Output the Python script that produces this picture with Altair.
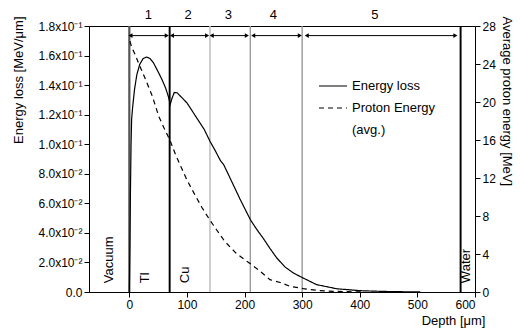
import altair as alt
import pandas as pd

# ---- data ----
eloss_depth = [0, 1, 2, 3, 4, 6, 9, 13, 18, 24, 30, 36, 42, 50, 57, 63, 68, 71,
               74, 78, 83, 90, 100, 110, 120, 130, 140, 150, 158, 164, 175, 192,
               210, 220, 233, 245, 256, 270, 285, 302, 325, 360, 400, 440, 470, 505]
eloss_value = [0.0, 0.03, 0.07, 0.10, 0.117, 0.126, 0.137, 0.147, 0.154, 0.158, 0.159,
               0.158, 0.155, 0.149, 0.1435, 0.138, 0.132, 0.127, 0.131, 0.135, 0.1348,
               0.132, 0.128, 0.122, 0.116, 0.110, 0.102, 0.095, 0.089, 0.086, 0.077,
               0.063, 0.049, 0.043, 0.036, 0.029, 0.023, 0.017, 0.0128, 0.0094, 0.005,
               0.0022, 0.0009, 0.0004, 0.0002, 0.0001]

energy_depth = [1, 4, 10, 18, 28, 40, 51, 60, 71, 80, 91, 100, 114, 126, 140, 152,
                166, 185, 207, 225, 244, 262, 279, 302, 330, 354, 380, 405]
energy_value = [26.4, 25.8, 25.0, 23.8, 22.4, 20.6, 18.5, 17.3, 15.9, 14.5, 13.0,
                11.8, 10.2, 8.9, 7.55, 6.5, 5.3, 4.1, 3.1, 2.3, 1.3, 1.0, 0.6, 0.35,
                0.15, 0.07, 0.03, 0.0]

boundary_depth = [0, 70, 140, 210, 300, 575]
boundary_kind = ["edge", "foil", "light", "mid", "mid", "foil"]

seg_start = [2, 74, 143, 215, 308]
seg_end = [65, 135, 204, 296, 566]
seg_label = ["1", "2", "3", "4", "5"]
seg_label_x = [33, 102, 172, 250, 426]
arrow_level = 0.1735

material_name = ["Vacuum", "Tl", "Cu", "Water"]
material_x = [-35, 28, 97, 585]

series_names = ["Energy loss", "Proton Energy", "(avg.)"]

left_ticks = [0, 0.02, 0.04, 0.06, 0.08, 0.10, 0.12, 0.14, 0.16, 0.18]
right_ticks = [0, 4, 8, 12, 16, 20, 24, 28]
x_ticks = [0, 100, 200, 300, 400, 500, 600]

FONT = "Liberation Sans"

eloss_df = pd.DataFrame({"depth": eloss_depth, "value": eloss_value,
                         "series": "Energy loss"})
energy_df = pd.DataFrame({"depth": energy_depth, "value": energy_value,
                          "series": "Proton Energy"})
bound_df = pd.DataFrame({"depth": boundary_depth, "kind": boundary_kind})
seg_df = pd.DataFrame({"start": seg_start, "end": seg_end, "label": seg_label,
                       "lx": seg_label_x, "level": arrow_level, "top": 0.18})
mat_df = pd.DataFrame({"name": material_name, "x": material_x, "y": 0.006})

xscale = alt.Scale(domain=[-70, 600], nice=False, zero=False)
yleft = alt.Scale(domain=[0, 0.18], nice=False)
yright = alt.Scale(domain=[0, 28], nice=False)
dash_scale = alt.Scale(domain=series_names, range=[[1, 0], [5, 4], [0, 100]])

left_axis = alt.Axis(values=left_ticks, orient="left", labelOverlap=False,
                     title="Energy loss [MeV/μm]",
                     labelExpr="datum.value == 0 ? '0.0' : (datum.value < 0.099 ? format(datum.value*100, '.1f') + 'x10⁻²' : format(datum.value*10, '.1f') + 'x10⁻¹')",
                     titleX=-71, titleY=-10, titleAngle=270, titleAlign="right",
                     titleBaseline="middle", labelPadding=2)

x_enc = alt.X("depth:Q", scale=xscale,
              axis=alt.Axis(values=x_ticks, title="Depth [μm]", titleX=396,
                            titleY=28, titleAlign="right", titleBaseline="middle",
                            labelPadding=2, labelOverlap=False))

rules = alt.Chart(bound_df).mark_rule().encode(
    x=alt.X("depth:Q", scale=xscale),
    color=alt.Color("kind:N", legend=None,
                    scale=alt.Scale(domain=["edge", "foil", "light", "mid"],
                                    range=["#555555", "#000000", "#c4c4c4", "#9a9a9a"])),
    strokeWidth=alt.StrokeWidth("kind:N", legend=None,
                                scale=alt.Scale(domain=["edge", "foil", "light", "mid"],
                                                range=[2.2, 1.4, 1.4, 1.0])),
)

eloss_line = alt.Chart(eloss_df).mark_line(color="black", strokeWidth=1.2).encode(
    x=x_enc,
    y=alt.Y("value:Q", scale=yleft, axis=left_axis),
    strokeDash=alt.StrokeDash("series:N", scale=dash_scale,
                              legend=alt.Legend(title=None)),
)

arrows = alt.Chart(seg_df).mark_rule(color="black", strokeWidth=1).encode(
    x=alt.X("start:Q", scale=xscale), x2="end:Q",
    y=alt.Y("level:Q", scale=yleft, axis=left_axis),
)
heads_l = alt.Chart(seg_df).mark_point(shape="triangle-left", filled=True,
                                       color="black", size=22, opacity=1).encode(
    x=alt.X("start:Q", scale=xscale), y=alt.Y("level:Q", scale=yleft, axis=left_axis))
heads_r = alt.Chart(seg_df).mark_point(shape="triangle-right", filled=True,
                                       color="black", size=22, opacity=1).encode(
    x=alt.X("end:Q", scale=xscale), y=alt.Y("level:Q", scale=yleft, axis=left_axis))
seg_text = alt.Chart(seg_df).mark_text(font=FONT, fontSize=13, dy=-11,
                                       color="black").encode(
    x=alt.X("lx:Q", scale=xscale), y=alt.Y("top:Q", scale=yleft, axis=left_axis),
    text="label:N")
mat_text = alt.Chart(mat_df).mark_text(font=FONT, fontSize=13, angle=270,
                                       align="left", baseline="middle",
                                       color="black").encode(
    x=alt.X("x:Q", scale=xscale), y=alt.Y("y:Q", scale=yleft, axis=left_axis),
    text="name:N")

left_group = alt.layer(rules, eloss_line, arrows, heads_l, heads_r, seg_text, mat_text)

energy_line = alt.Chart(energy_df).mark_line(color="black", strokeWidth=1.2).encode(
    x=x_enc,
    y=alt.Y("value:Q", scale=yright,
            axis=alt.Axis(values=right_ticks, orient="right", labelOverlap=False,
                          title="Average proton energy  [MeV]",
                          titleX=31, titleY=-10, titleAngle=90, titleAlign="left",
                          titleBaseline="middle", labelPadding=2)),
    strokeDash=alt.StrokeDash("series:N", scale=dash_scale,
                              legend=alt.Legend(title=None)),
)

chart = alt.layer(left_group, energy_line).resolve_scale(y="independent").properties(
    width=386, height=266,
    autosize=alt.AutoSizeParams(type="none"),
    padding={"left": 81, "top": 18, "right": 38, "bottom": 36},
).configure_view(stroke="black", strokeWidth=1).configure_axis(
    grid=False, labelFont=FONT, labelFontSize=12, labelColor="black",
    titleFont=FONT, titleFontSize=13, titleFontWeight="normal", titleColor="black",
    domainColor="black", tickColor="black", tickSize=5, domainWidth=1,
    labelOverlap=False,
).configure_axisLeft(labelOverlap=False).configure_legend(
    orient="none", legendX=229, legendY=45, symbolType="stroke", symbolSize=784,
    symbolStrokeWidth=1.2, symbolStrokeColor="black", labelFont=FONT,
    labelFontSize=13, labelColor="black", padding=0, rowPadding=-8, labelOffset=4,
)

chart.save("out.html", embed_options={"renderer": "svg", "actions": False})
